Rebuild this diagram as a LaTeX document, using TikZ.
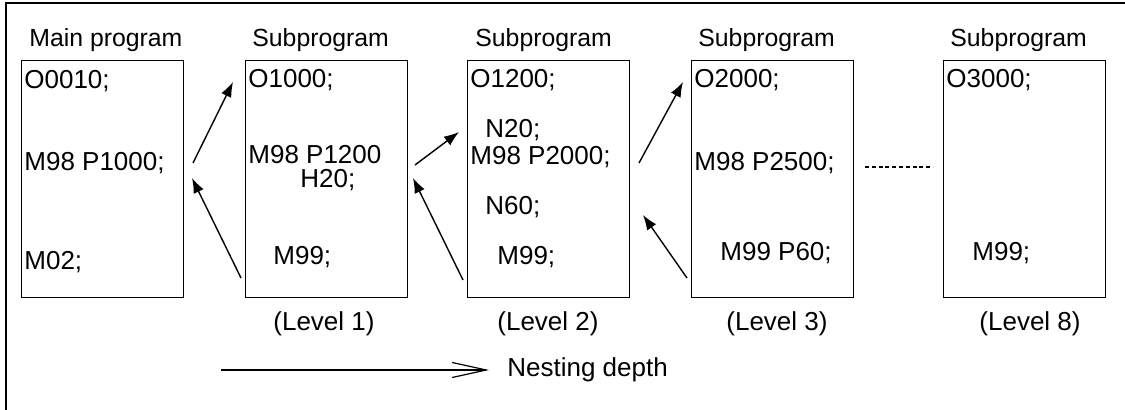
\documentclass[tikz,border=0pt]{standalone}
\usepackage{fontspec}
\setmainfont{Liberation Sans}
\usepackage{tikz}
\usetikzlibrary{arrows.meta}

\tikzset{
  prog/.style={draw, line width=0.6pt, anchor=north west, inner sep=0pt,
    minimum width=81pt, minimum height=118.5pt},
  code/.style={anchor=west, inner sep=0pt, font=\fontsize{13}{15}\selectfont},
  title/.style={anchor=west, inner sep=0pt, font=\fontsize{12.4}{14}\selectfont},
  call/.style={line width=0.7pt, -{Latex[length=7.5pt,width=5.5pt]}}
}

\begin{document}
\begin{tikzpicture}[x=0.5pt, y=-0.5pt]
            \useasboundingbox (0,0) rectangle (1125,410);

            % Frame (left and top only)
            \draw[line width=1pt] (6,410) -- (6,3) -- (1125,3);

            % --- PROGRAM BOXES ---
            \node[prog] (main) at (21,60) {};
            \node[prog] (sub1) at (245,60) {};
            \node[prog] (sub2) at (467,60) {};
            \node[prog] (sub3) at (691,60) {};
            \node[prog] (sub8) at (943,60) {};

            % Titles
            \node[title] (tmain) at (29,40) {Main program};
            \node[title] (tsub1) at (252,40) {Subprogram};
            \node[title] (tsub2) at (475,40) {Subprogram};
            \node[title] (tsub3) at (698,40) {Subprogram};
            \node[title] (tsub8) at (950,40) {Subprogram};

            % Main program
            \node[code] (m1) at (24,81) {O0010;};
            \node[code] (m2) at (24,163) {M98 P1000;};
            \node[code] (m3) at (24,262) {M02;};

            % Level 1
            \node[code] (a1) at (248,80) {O1000;};
            \node[code] (a2) at (248,155) {M98 P1200};
            \node[code] (a3) at (300,180) {H20;};
            \node[code] (a4) at (273,257) {M99;};

            % Level 2
            \node[code] (b1) at (470,80) {O1200;};
            \node[code] (b2) at (485,130) {N20;};
            \node[code] (b3) at (470,157) {M98 P2000;};
            \node[code] (b4) at (485,207) {N60;};
            \node[code] (b5) at (497,257) {M99;};

            % Level 3
            \node[code] (c1) at (694,80) {O2000;};
            \node[code] (c2) at (694,163) {M98 P2500;};
            \node[code] (c3) at (720,253) {M99 P60;};

            % Level 8
            \node[code] (d1) at (946,80) {O3000;};
            \node[code] (d2) at (972,253) {M99;};

            % Level labels
            \node[code, anchor=center] (l1) at (324,324) {(Level 1)};
            \node[code, anchor=center] (l2) at (548,324) {(Level 2)};
            \node[code, anchor=center] (l3) at (777,324) {(Level 3)};
            \node[code, anchor=center] (l8) at (1030,324) {(Level 8)};

            % --- CALL / RETURN ARROWS ---
            \coordinate (go1) at (193,163);  \coordinate (in1) at (233,82);
            \coordinate (up1) at (241,278);  \coordinate (bk1) at (192,178);
            \coordinate (go2) at (415,165);  \coordinate (in2) at (459,132);
            \coordinate (up2) at (463,280);  \coordinate (bk2) at (413,178);
            \coordinate (go3) at (639,163);  \coordinate (in3) at (683,82);
            \coordinate (up3) at (687,278);  \coordinate (bk3) at (643,215);

            \draw[call] (go1) -- (in1);
            \draw[call] (up1) -- (bk1);
            \draw[call] (go2) -- (in2);
            \draw[call] (up2) -- (bk2);
            \draw[call] (go3) -- (in3);
            \draw[call] (up3) -- (bk3);

            % Dashed gap between level 3 and level 8
            \coordinate (gapL) at (865,167);
            \coordinate (gapR) at (933,167);
            \draw[line width=0.6pt, dash pattern=on 2pt off 1.4pt] (gapL) -- (gapR);

            % Nesting depth arrow
            \node[code] (depth) at (507,370) {Nesting depth};
            \coordinate (dstart) at (221,370);
            \draw[line width=0.6pt, -{Straight Barb[length=17pt,width=7.5pt]}] (dstart) -- ([xshift=-9pt]depth.west);

        \end{tikzpicture}
\end{document}
